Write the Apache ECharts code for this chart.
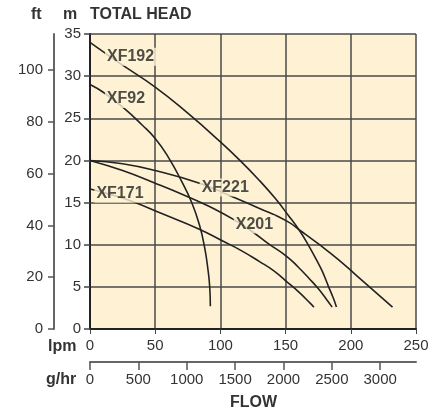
<!DOCTYPE html>
<html>
<head>
<meta charset="utf-8">
<script src="https://cdn.jsdelivr.net/npm/echarts@6/dist/echarts.min.js"></script>
<style>
html,body{margin:0;padding:0;background:#fff;}
#c{width:446px;height:412px;}
</style>
</head>
<body>
<div id="c"></div>
<script>
// ---- data (flow in lpm, head in m) ----
const LPM_MAX = 250;
const M_MAX = 35;
const FT_MAX = 114;
const GPH_MAX = 3370;
const ftTicks = [0, 20, 40, 60, 80, 100];
const gphTicks = [0, 500, 1000, 1500, 2000, 2500, 3000];

const XF192 = [[0,34],[10,32.9],[25,31.3],[50,28.7],[75,25.6],[100,22.2],[115,20.0],[130,17.6],[142,15.5],[152,13.5],[161,11.6],[168,9.8],[174,8.1],[178,6.9],[183,5.0],[186.5,3.7],[189,2.6]];
const XF92 = [[0,29],[11,28],[26,26.2],[40,24.2],[50,22.6],[60,20.4],[70,17.6],[78,15.0],[84,12.3],[88,9.6],[90.5,7.0],[91.8,5.0],[92.3,2.7]];
const XF221 = [[0,20],[25,19.6],[50,18.8],[84,17.3],[106,15.9],[130,14.3],[151,12.8],[162,11.6],[176,10.0],[190,8.3],[204,6.4],[218,4.5],[232,2.6]];
const X201 = [[0,20],[25,18.8],[50,17.3],[75,15.7],[92,14.5],[110,13.0],[124,11.6],[137,10.1],[151,8.6],[160,7.3],[168,6.0],[175,4.8],[181,3.6],[185.7,2.6]];
const XF171 = [[0,16.6],[15,16.0],[33,15.1],[55,13.7],[83,11.9],[101,10.5],[116,9.3],[130,8.0],[141,6.9],[151,5.6],[160,4.4],[168.6,3.1],[171.7,2.6]];

const curveNames = ['XF192','XF92','XF221','X201','XF171'];
const curveData = [XF192, XF92, XF221, X201, XF171];
// label anchor points (lpm, m)
const labelPoints = [[31.1,32.3],[27.6,27.3],[103.7,16.8],[126.1,12.4],[23.0,16.05]];

const BG = '#FFF2D4';
const FONT = '"Liberation Sans", Arial, Helvetica, sans-serif';
const TXT = '#333';

const chart = echarts.init(document.getElementById('c'), null, {renderer:'canvas'});

const series = curveData.map((d, i) => ({
  type: 'line', name: curveNames[i], data: d, smooth: 0.5, symbol: 'none',
  lineStyle: {color: '#222', width: 1.6}, z: 3, silent: true,
  xAxisIndex: 0, yAxisIndex: 0
}));
series.push({
  type: 'scatter', symbolSize: 0, z: 6, silent: true,
  xAxisIndex: 0, yAxisIndex: 0,
  data: labelPoints.map((p, i) => ({value: p, name: curveNames[i]})),
  label: {
    show: true, position: 'inside', formatter: p => p.name,
    fontFamily: FONT, fontWeight: 'bold', fontSize: 16, color: '#222',
    backgroundColor: BG, padding: [1, 2]
  }
});

chart.setOption({
  animation: false,
  backgroundColor: '#fff',
  grid: {left: 90, top: 34, width: 326, height: 295, show: true, backgroundColor: BG, borderWidth: 0},
  xAxis: [{
    type: 'value', min: 0, max: LPM_MAX, interval: 50, position: 'bottom',
    axisLine: {show: true, lineStyle: {color: '#222', width: 2}},
    axisTick: {show: true, length: 5, lineStyle: {color: '#444'}},
    axisLabel: {fontFamily: FONT, fontSize: 15, color: TXT, margin: 9},
    splitLine: {show: true, lineStyle: {color: '#4a4a4a', width: 1.5}}
  }, {
    type: 'value', min: 0, max: GPH_MAX, position: 'bottom', offset: 33,
    axisLine: {show: true, onZero: false, lineStyle: {color: '#666', width: 2}},
    axisTick: {show: true, length: 8, customValues: gphTicks, lineStyle: {color: '#555', width: 1.5}},
    axisLabel: {fontFamily: FONT, fontSize: 15, color: TXT, margin: 10, customValues: gphTicks, formatter: v => String(v)},
    splitLine: {show: false}
  }],
  yAxis: [{
    type: 'value', min: 0, max: M_MAX, interval: 5, position: 'left',
    axisLine: {show: true, lineStyle: {color: '#222', width: 2}},
    axisTick: {show: true, length: 6, lineStyle: {color: '#444', width: 1.5}},
    axisLabel: {fontFamily: FONT, fontSize: 15, color: TXT, margin: 9},
    splitLine: {show: true, lineStyle: {color: '#4a4a4a', width: 1.5}}
  }, {
    type: 'value', min: 0, max: FT_MAX, position: 'left', offset: 36,
    axisLine: {show: true, onZero: false, lineStyle: {color: '#666', width: 2}},
    axisTick: {show: true, length: 6, customValues: ftTicks, lineStyle: {color: '#555', width: 1.5}},
    axisLabel: {fontFamily: FONT, fontSize: 15, color: TXT, margin: 11, customValues: ftTicks, formatter: v => String(v)},
    splitLine: {show: false}
  }],
  graphic: [
    {type: 'text', left: 31, top: 7, style: {text: 'ft', font: 'bold 16px ' + FONT, fill: TXT}},
    {type: 'text', left: 63, top: 7, style: {text: 'm', font: 'bold 16px ' + FONT, fill: TXT}},
    {type: 'text', left: 90, top: 7, style: {text: 'TOTAL HEAD', font: 'bold 16px ' + FONT, fill: TXT}},
    {type: 'text', left: 48, top: 339, style: {text: 'lpm', font: 'bold 16px ' + FONT, fill: TXT}},
    {type: 'text', left: 46, top: 372, style: {text: 'g/hr', font: 'bold 16px ' + FONT, fill: TXT}},
    {type: 'text', left: 230, top: 395, style: {text: 'FLOW', font: 'bold 16px ' + FONT, fill: TXT}}
  ],
  series: series
});
</script>
</body>
</html>
